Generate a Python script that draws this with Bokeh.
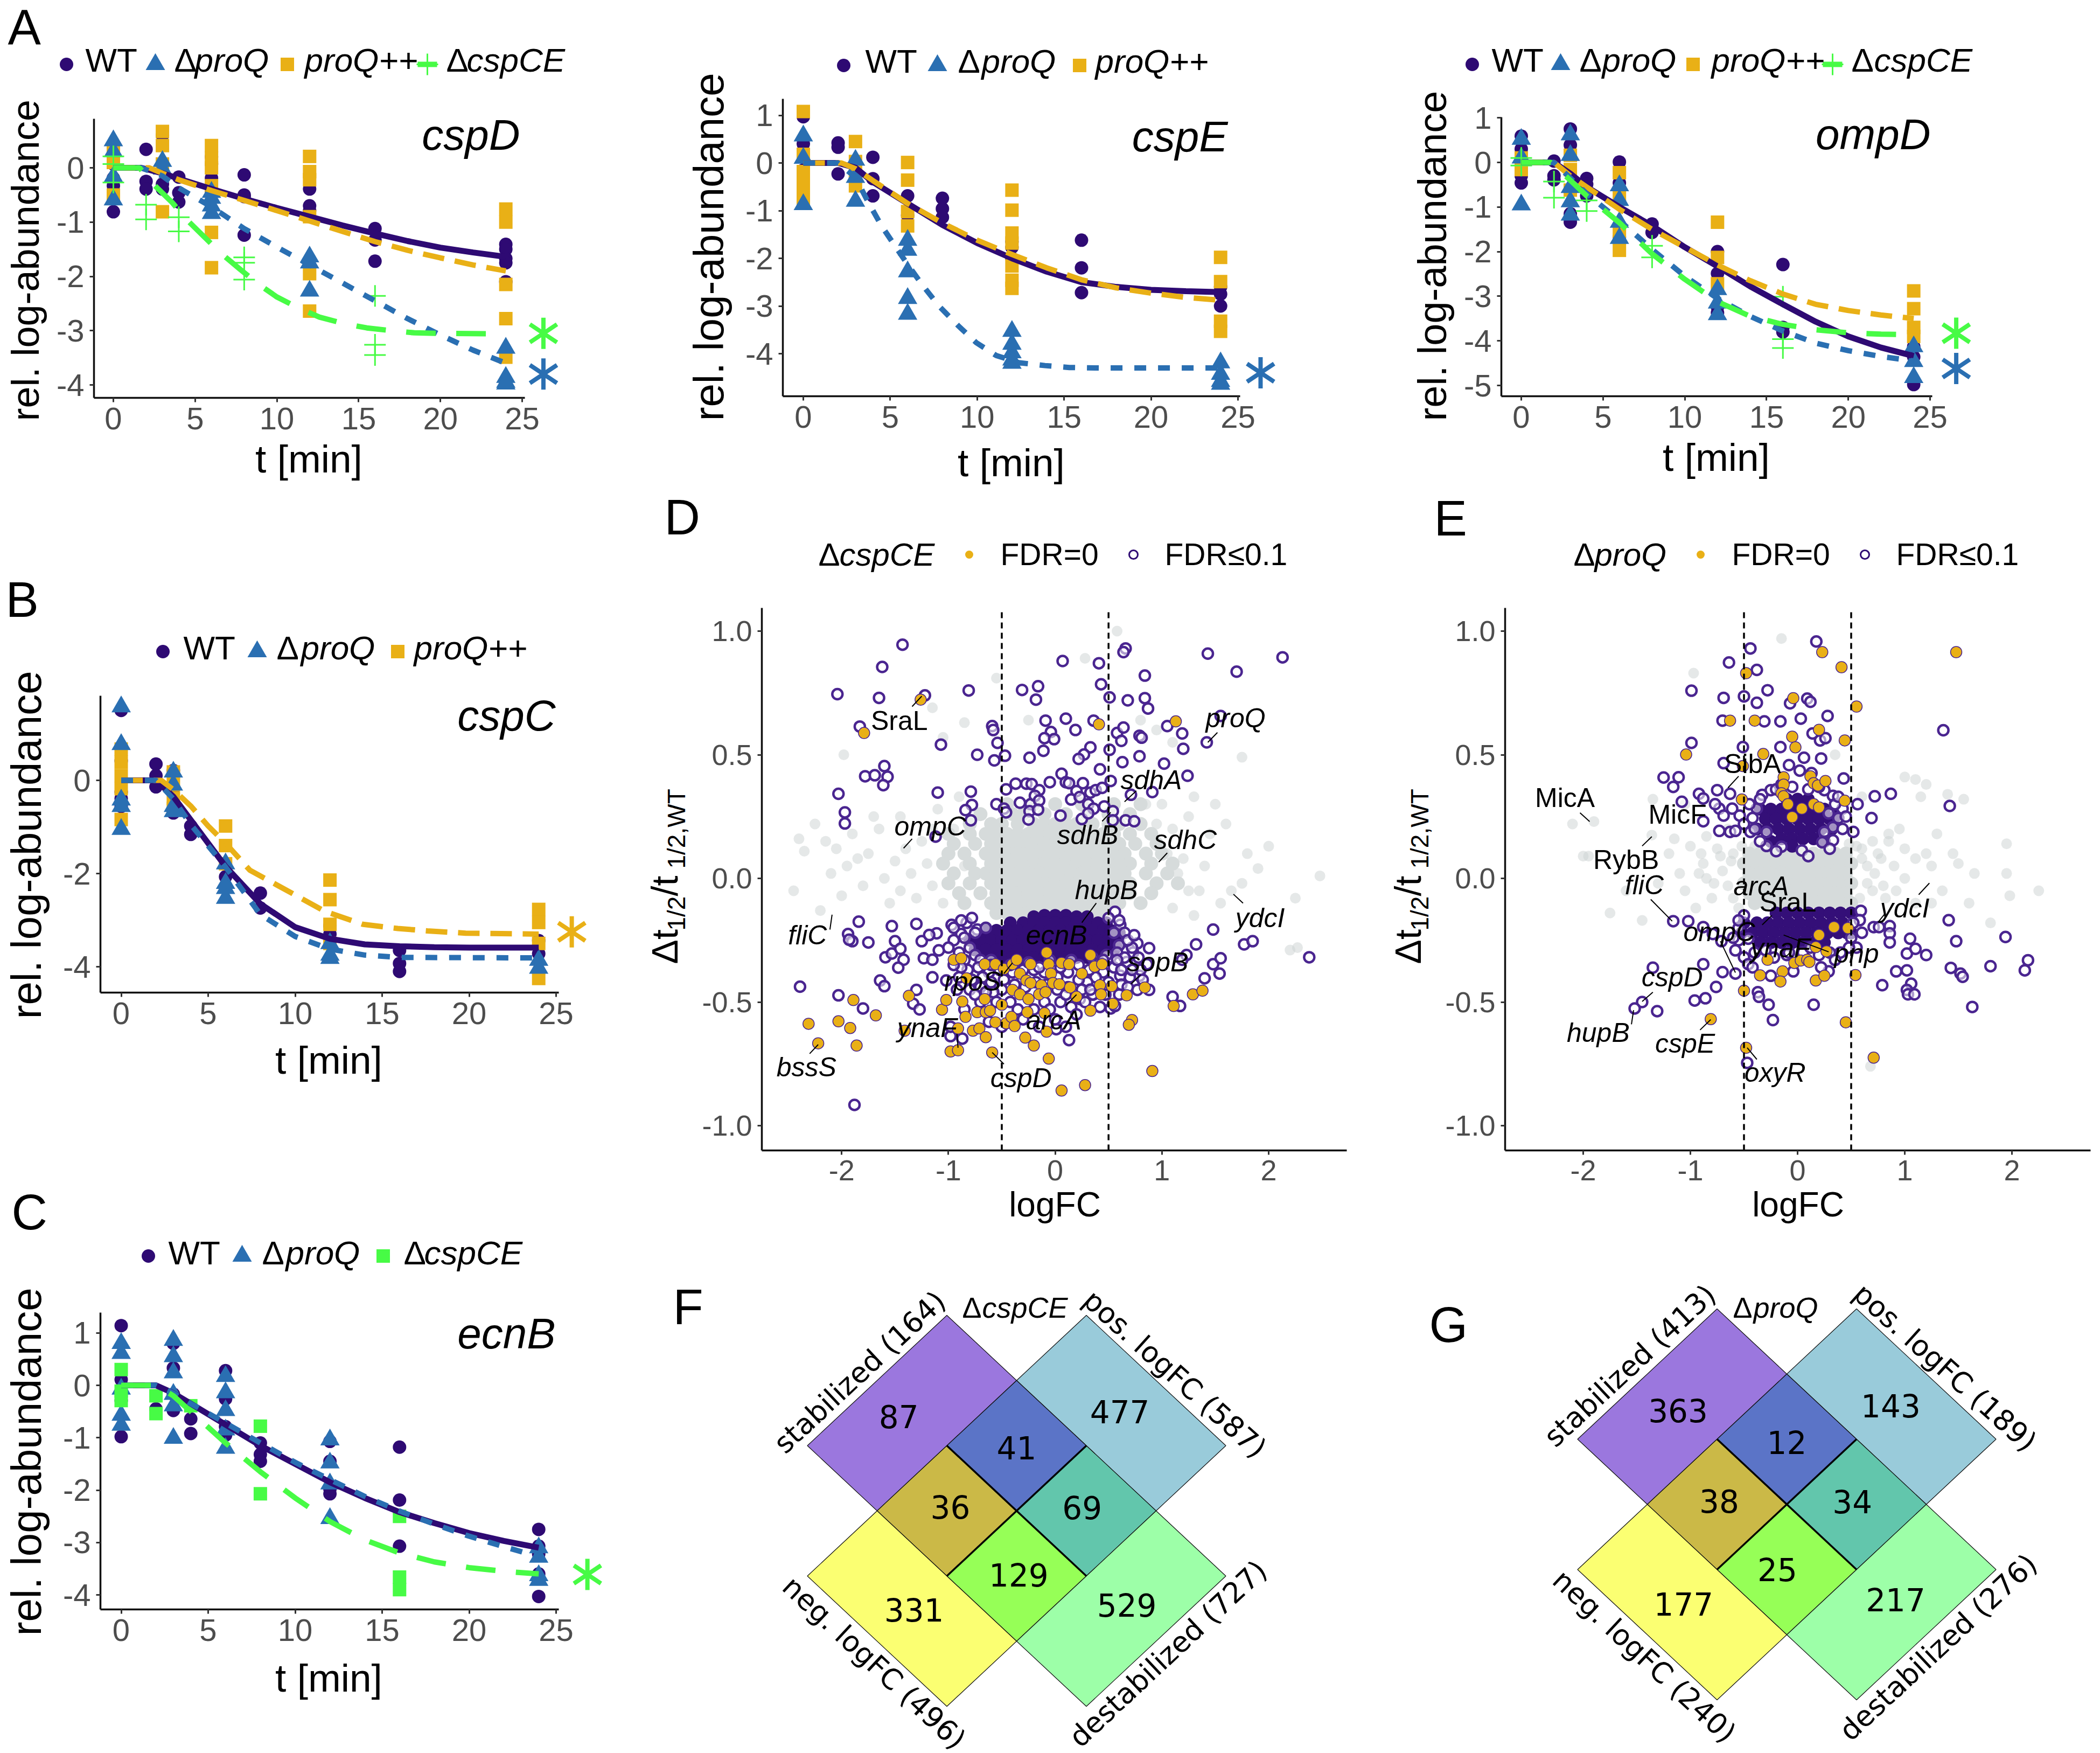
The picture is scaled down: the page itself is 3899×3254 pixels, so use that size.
from bokeh.plotting import figure
from bokeh.models import Range1d, Label, FixedTicker
from bokeh.layouts import row, column
from bokeh.embed import file_html
from bokeh.resources import INLINE
import math

PURPLE="#2E0A73"; BLUE="#2A6FB2"; ORANGE="#E9B016"; GREEN="#47FB45"; FONT="Liberation Sans"; VF="DejaVu Sans"

# ---------- time course data: (t, value) ----------
cspD_wt=[(0,.38),(0,.2),(0,.07),(0,-.19),(0,-.33),(0,-.81),(2,.34),(2,-.25),(2,-.39),(3,.6),(3,-.3),(3,-.39),(4,-.17),(4,-.46),(4,-.63),(6,.2),(6,.07),(6,-.19),(6,-.46),(8,-.13),(8,-.5),(8,-.53),(8,-1.24),(12,-.39),(12,-.7),(12,-.79),(16,-1.12),(16,-1.33),(16,-1.72),(24,-1.41),(24,-1.5),(24,-1.67),(24,-1.75),(24,-2.1)]
cspD_dq=[(0,.5),(0,.3),(0,-.16),(0,-.59),(3,.12),(3,-.02),(6,-.45),(6,-.56),(6,-.7),(6,-.84),(12,-1.64),(12,-1.75),(12,-2.27),(24,-3.32),(24,-3.86),(24,-3.95),(24,-3.98)]
cspD_pq=[(0,.3),(0,.1),(0,-.5),(0,-.55),(3,.67),(3,.41),(3,.07),(3,-.81),(6,.41),(6,.18),(6,0),(6,-.33),(6,-1.19),(6,-1.84),(12,.21),(12,-.07),(12,-.22),(12,-.9),(12,-1.95),(12,-2.64),(24,-.76),(24,-1.0),(24,-2.15),(24,-2.78),(24,-3.49)]
cspD_dc=[(0,.21),(0,.07),(0,-.27),(2,-.68),(2,-.95),(4,-.91),(4,-1.17),(8,-1.65),(8,-1.75),(8,-2.06),(16,-2.36),(16,-3.26),(16,-3.45)]
cspD_wt_fit=[(0,0),(1.7,0),(3,-.1),(4,-.2),(6,-.39),(8,-.57),(10,-.74),(12,-.9),(14,-1.06),(16,-1.21),(18,-1.35),(20,-1.47),(22,-1.56),(24,-1.64)]
cspD_pq_fit=[(0,0),(2.2,0),(3,-.1),(4,-.22),(6,-.42),(8,-.6),(10,-.79),(12,-.98),(14,-1.17),(16,-1.36),(18,-1.52),(20,-1.66),(22,-1.79),(24,-1.9)]
cspD_dq_fit=[(0,0),(1.7,0),(3,-.15),(4,-.37),(6,-.72),(8,-1.12),(10,-1.46),(12,-1.79),(14,-2.12),(16,-2.45),(18,-2.78),(20,-3.08),(22,-3.36),(24,-3.6)]
cspD_dc_fit=[(0,0),(1.6,0),(2.54,-.33),(3.6,-.64),(4.5,-.96),(5.55,-1.27),(6.6,-1.58),(7.75,-1.87),(8.9,-2.15),(10,-2.38),(11.3,-2.58),(12.6,-2.75),(14.1,-2.87),(15.5,-2.95),(17,-3.0),(18.4,-3.04),(19.9,-3.05),(24,-3.06)]

cspE_wt=[(0,.97),(0,.5),(0,.4),(0,.12),(0,-.15),(0,-.3),(2,.42),(2,.33),(2,-.23),(3,-.3),(4,.12),(4,-.33),(4,-.69),(6,-.69),(6,-1.1),(8,-.74),(8,-.96),(8,-1.14),(12,-1.65),(12,-1.77),(12,-2.0),(16,-1.62),(16,-2.2),(16,-2.72),(24,-2.75),(24,-3.0),(24,-2.6)]
cspE_dq=[(0,.57),(0,.1),(0,-.87),(3,.06),(3,-.3),(3,-.8),(6,-1.62),(6,-1.83),(6,-2.28),(6,-2.84),(6,-3.17),(12,-3.53),(12,-3.8),(12,-3.98),(12,-4.13),(12,-4.2),(24,-4.19),(24,-4.43),(24,-4.58),(24,-4.64)]
cspE_pq=[(0,1.08),(0,.18),(0,-.18),(0,-.36),(0,-.54),(0,-.78),(3,.45),(3,.03),(3,-.24),(3,-.48),(6,.01),(6,-.36),(6,-1.02),(6,-1.32),(12,-.57),(12,-.99),(12,-1.47),(12,-1.68),(12,-2.16),(12,-2.46),(12,-2.63),(24,-1.98),(24,-2.49),(24,-3.32),(24,-3.53)]
cspE_wt_fit=[(0,0),(2,0),(3,-.1),(4,-.4),(6,-.85),(8,-1.3),(10,-1.68),(12,-2.0),(14,-2.28),(16,-2.5),(18,-2.6),(20,-2.66),(22,-2.69),(24,-2.71)]
cspE_pq_fit=[(0,0),(2.2,0),(3,-.12),(4,-.37),(6,-.85),(8,-1.26),(10,-1.62),(12,-1.92),(14,-2.2),(16,-2.45),(18,-2.62),(20,-2.73),(22,-2.82),(24,-2.88)]
cspE_dq_fit=[(0,0),(2,0),(3,-.3),(3.67,-.78),(4.5,-1.32),(5.2,-1.7),(6,-2.13),(6.87,-2.57),(7.8,-3.0),(8.9,-3.41),(9.95,-3.77),(11.1,-4.04),(12.4,-4.19),(13.9,-4.25),(15.3,-4.29),(17,-4.3),(24,-4.3)]

ompD_wt=[(0,.59),(0,.3),(0,.03),(0,-.3),(0,-.46),(2,.03),(2,-.3),(2,-.39),(3,.75),(3,.39),(3,-1.15),(3,-1.34),(4,-.36),(4,-.49),(4,-.75),(6,.01),(6,-.46),(6,-.85),(6,-1.67),(8,-1.38),(8,-1.57),(12,-2.0),(12,-2.49),(12,-3.24),(12,-3.37),(16,-2.29),(16,-3.7),(16,-3.8),(24,-4.13),(24,-4.36),(24,-4.98)]
ompD_dq=[(0,.52),(0,.1),(0,-.95),(3,.62),(3,.16),(3,-.56),(3,-.88),(3,-1.18),(6,-.52),(6,-.85),(6,-1.34),(6,-1.7),(12,-2.85),(12,-3.15),(12,-3.41),(24,-4.13),(24,-4.46),(24,-4.82)]
ompD_pq=[(0,.1),(0,-.16),(3,.16),(3,-.16),(3,-.62),(6,-.23),(6,-.75),(6,-1.54),(6,-1.97),(12,-1.34),(12,-2.13),(12,-2.72),(24,-2.88),(24,-3.28),(24,-3.7),(24,-3.9)]
ompD_dc=[(0,.1),(0,-.07),(2,-.43),(2,-.79),(4,-.85),(4,-1.09),(8,-1.87),(8,-2.13),(16,-3.01),(16,-3.96),(16,-4.16)]
ompD_wt_fit=[(0,0),(2,0),(3,-.25),(4,-.55),(6,-1.0),(8,-1.42),(10,-1.9),(12,-2.33),(14,-2.78),(16,-3.18),(18,-3.57),(20,-3.9),(22,-4.15),(24,-4.34)]
ompD_pq_fit=[(0,0),(2,0),(3,-.3),(4,-.55),(6,-1.05),(8,-1.5),(10,-1.9),(12,-2.3),(14,-2.65),(16,-2.95),(18,-3.18),(20,-3.32),(22,-3.42),(24,-3.5)]
ompD_dq_fit=[(0,0),(2,0),(3,-.35),(4,-.7),(6,-1.3),(8,-1.95),(10,-2.55),(12,-3.05),(14,-3.45),(16,-3.78),(18,-4.05),(20,-4.22),(22,-4.35),(24,-4.45)]
ompD_dc_fit=[(0,0),(1.8,0),(3,-.4),(4,-.75),(6,-1.35),(8,-2.05),(10,-2.62),(12,-3.12),(14,-3.45),(16,-3.63),(18,-3.75),(20,-3.82),(22,-3.85),(24,-3.86)]

cspC_wt=[(0,1.5),(0,.42),(0,-.25),(0,-.39),(0,-.56),(2,.35),(2,.1),(2,-.14),(3,.21),(3,-.18),(3,-.7),(4,-.98),(4,-1.16),(6,-2.07),(8,-2.42),(8,-2.74),(12,-3.12),(12,-3.3),(16,-3.65),(16,-3.93),(16,-4.1),(24,-3.44),(24,-3.72)]
cspC_dq=[(0,1.58),(0,.77),(0,-.42),(0,-.56),(0,-1.05),(3,.18),(3,-.1),(3,-.56),(3,-.67),(6,-1.79),(6,-2.21),(6,-2.32),(6,-2.53),(12,-3.5),(12,-3.75),(12,-3.82),(24,-3.86),(24,-4.03)]
cspC_pq=[(0,.67),(0,.39),(0,.1),(0,-.18),(0,-.84),(3,.18),(3,-.1),(3,-.39),(3,-.6),(6,-.98),(6,-1.4),(6,-1.79),(12,-2.14),(12,-2.56),(12,-3.09),(12,-3.5),(24,-2.77),(24,-3.05),(24,-3.5),(24,-4.25)]
cspC_wt_fit=[(0,0),(2,0),(3,-.35),(4,-.85),(6,-1.85),(8,-2.65),(10,-3.15),(12,-3.4),(14,-3.52),(16,-3.56),(18,-3.58),(20,-3.59),(24,-3.59)]
cspC_pq_fit=[(0,0),(2.3,0),(3,-.2),(4,-.55),(5,-.98),(6,-1.35),(7.4,-1.93),(10,-2.46),(11.7,-2.81),(13.9,-3.09),(15.9,-3.18),(17.6,-3.23),(19.8,-3.28),(24,-3.3)]
cspC_dq_fit=[(0,0),(2,0),(3,-.4),(4,-.95),(6,-1.86),(8,-2.88),(10,-3.35),(12,-3.62),(14,-3.75),(16,-3.8),(24,-3.81)]

ecnB_wt=[(0,1.14),(0,.11),(0,-.29),(0,-.98),(2,-.45),(3,.8),(3,.33),(3,-.17),(3,-.48),(4,-.64),(4,-.92),(6,.28),(6,-.26),(6,-.79),(6,-.95),(8,-1.1),(8,-1.32),(8,-1.45),(12,-1.07),(12,-1.45),(12,-1.98),(12,-2.07),(16,-1.18),(16,-2.19),(16,-3.07),(24,-2.75),(24,-3.07),(24,-3.22),(24,-3.6),(24,-4.03)]
ecnB_dq=[(0,.8),(0,.61),(0,-.07),(0,-.57),(0,-.76),(3,.86),(3,.55),(3,.24),(3,-.17),(3,-.39),(3,-1.01),(6,.17),(6,-.14),(6,-.48),(6,-.85),(6,-1.2),(12,-1.04),(12,-1.48),(12,-1.88),(12,-2.54),(24,-3.1),(24,-3.28),(24,-3.63),(24,-3.72)]
ecnB_dc=[(0,.3),(0,-.11),(0,-.29),(2,-.2),(2,-.54),(4,-.39),(8,-.78),(8,-2.07),(16,-2.5),(16,-3.66),(16,-3.9)]
ecnB_wt_fit=[(0,0),(2,0),(3,-.15),(4,-.35),(6,-.75),(8,-1.15),(10,-1.5),(12,-1.85),(14,-2.15),(16,-2.42),(18,-2.63),(20,-2.82),(22,-2.97),(24,-3.1)]
ecnB_dq_fit=[(0,0),(2,0),(3,-.15),(4,-.35),(6,-.72),(8,-1.1),(10,-1.47),(12,-1.8),(14,-2.12),(16,-2.4),(18,-2.65),(20,-2.88),(22,-3.08),(24,-3.27)]
ecnB_dc_fit=[(0,0),(2,0),(3,-.2),(4,-.5),(6,-1.1),(8,-1.65),(10,-2.15),(12,-2.6),(14,-2.95),(16,-3.2),(18,-3.37),(20,-3.48),(22,-3.55),(24,-3.6)]

# ---------- volcano D: (logFC, dt) ----------
D_rings=[(-1.43,.945),(-1.62,.855),(-2.04,.745),(-1.65,.73),(-1.22,.74),(-.81,.76),(-.31,.762),(-.16,.777),(-.18,.723),(.07,.879),(.41,.87),(.66,.93),(.64,.915),(.43,.785),(.51,.732),(.68,.72),(.84,.82),(.84,.729),(.87,.687),(1.43,.909),(1.70,.836),(2.13,.894),(1.55,.657),(1.42,.55),(1.19,.586),(1.05,.616),(1.2,.524),(1.02,.464),(1.24,.415),(.91,.349),(-1.83,.614),(-1.07,.541),(-.59,.616),(-.58,.6),(-.54,.548),(-.73,.5),(-.57,.477),(-.47,.496),(-.24,.488),(-.09,.638),(.1,.646),(-.04,.592),(-.1,.567),(-.01,.563),(-.11,.516),(.19,.6),(.36,.638),(.58,.588),(.64,.61),(.62,.556),(.79,.577),(.81,.569),(.79,.494),(.51,.52),(.33,.53),(.27,.501),(.22,.483),(.63,.47),(-2.03,.342),(-1.97,.267),(-1.97,.222),(-1.78,.413),(-1.69,.417),(-1.6,.454),(-1.57,.411),(-1.61,.377),(-1.1,.347),(-.79,.351),(-.78,.297),(-.84,.276),(-.79,.235),(-1.12,.169),
(-.55,.3),(-.48,.282),(-.46,.267),(-.46,.36),(-.37,.383),(-.27,.383),(-.22,.381),(-.33,.306),(-.23,.3),(-.15,.357),(-.19,.334),(-.15,.315),(-.24,.272),(-.16,.278),(-.25,.238),(-.05,.389),(.06,.423),(.1,.389),(.13,.385),(.26,.385),(.2,.353),(.15,.319),(.23,.329),(.33,.347),(.38,.357),(.44,.366),(.42,.441),(.52,.394),(.31,.3),(.36,.282),(.46,.291),(.54,.272),(.25,.24),(.31,.263),(.05,.254),(.54,.235),(.66,.235),(.74,.231),(.71,.338),
(-1.84,-.175),(-1.94,-.225),(-1.9,-.254),(-1.93,-.248),(-1.75,-.259),(-1.53,-.193),(-1.5,-.254),(-1.3,-.184),(-1.25,-.254),(-1.11,-.222),(-1.18,-.229),(-1.09,-.291),(-1.59,-.319),(-1.53,-.304),(-1.45,-.285),(-1.42,-.329),(-1.47,-.361),(-1.23,-.323),(-1.15,-.329),(-1.15,-.4),(-1.64,-.413),(-1.6,-.436),(-2.39,-.438),(-2.03,-.473),(-1.8,-.526),(-1.3,-.451),(-1.33,-.507),(-1.27,-.53),(-1.88,-.916),
(-.97,-.188),(-.83,-.18),(-.73,-.207),(-.88,-.225),(-1.02,-.413),(-.98,-.638),(-.87,-.648),(-.98,-.6),(.13,-.654),(.01,-.61),(.52,-.526),(.56,-.516),(.77,-.451),(.88,-.451),(1.1,-.479),(1.17,-.516),(1.4,-.404),(1.48,-.347),(1.55,-.323),(1.54,-.385),(1.32,-.267),(1.23,-.31),(1.19,-.329),(1.48,-.207),(1.77,-.267),(1.85,-.254),(2.38,-.319),(.88,-.282),(.77,-.263),(.61,-.188),(.56,-.135),(.67,-.254),(.73,-.3),(.86,-.347),(.61,-.394),(.36,-.469),(.23,-.488),(.52,-.319),(.67,-.338),(.79,-.394),
(-.95,-.25),(-.9,-.3),(-.85,-.24),(-.8,-.28),(-.85,-.33),(-.75,-.31),(-.7,-.33),(-.6,-.33),(-.75,-.22),(-.65,-.2),(.55,-.22),(.6,-.27),(.65,-.22),(.58,-.3),(.65,-.32),(.72,-.28),(.78,-.32),(.55,-.36),(.62,-.37),(.7,-.4),(.8,-.37),(.5,-.42),(.45,-.38),(.38,-.4),(.3,-.42),(.25,-.45),(.35,-.47),(.12,-.38),(.02,-.4),(-.1,-.38),(-.2,-.37),(-.3,-.37),(-.4,-.38),(-.52,-.37),(-.62,-.38),(-.72,-.36),(-.82,-.37),(-.9,-.4),(-.8,-.45),(-.7,-.44),(-.6,-.42),(-.5,-.45),(-.42,-.5),(-.55,-.5),(-.7,-.5),(-.85,-.53),(-.1,-.5),(.05,-.5),(.15,-.52),(.28,-.5),(.42,-.52),(-.3,-.57),(-.15,-.6),(0,-.57),(.1,-.6),(-.62,-.58),(-.5,-.6),(.35,-.32),(.15,-.33),(-.05,-.33),(-.25,-.34),
(-.88,-.36),(-.78,-.41),(-.68,-.4),(-.58,-.46),(-.48,-.41),(-.38,-.43),(-.28,-.44),(-.18,-.42),(-.08,-.43),(.02,-.45),(.12,-.44),(.22,-.41),(.32,-.37),(.42,-.34),(.48,-.31),(.62,-.43),(.72,-.37),(.82,-.41),(-.95,-.35),(-1.0,-.28),(-.92,-.45),(-.75,-.47),(-.65,-.46),(-.35,-.53),(-.2,-.53),(-.05,-.53),(.1,-.47),(.2,-.55),(.33,-.45),(.47,-.47),(.6,-.47),(.68,-.44),(-.6,-.35),(-.42,-.35),(-.15,-.36),(.05,-.36),(.22,-.35),(.45,-.33),(.58,-.33),(.68,-.25),(.74,-.23),(-.95,-.2),(-.88,-.17),(-.78,-.16),(.6,-.17),(.5,-.16)]
D_fdr0=[(-1.26,.723),(-1.79,.588),(.41,.623),(1.13,.635),(-.95,-.329),(-.88,-.323),(-.83,-.404),(-.66,-.347),(-.56,-.347),(-.48,-.366),(-.4,-.347),(-.36,-.329),(-.23,-.347),(-.08,-.3),(-.06,-.347),(.06,-.342),(.13,-.347),(.33,-.31),(.37,-.357),(.44,-.347),(.25,-.385),(-.04,-.385),(-.33,-.385),(-.27,-.413),(-.23,-.423),(-.13,-.432),(-.02,-.423),(.04,-.428),(.14,-.441),(-.4,-.451),(-.33,-.469),(-.25,-.488),(-.15,-.469),(-.09,-.46),(.2,-.479),(.42,-.432),(.53,-.436),(.43,-.469),(.84,-.441),(.67,-.473),(.54,-.507),(.33,-.535),(1.29,-.469),(1.38,-.454),(1.11,-.516),(.72,-.573),(.69,-.592),(-1.37,-.475),(-1.89,-.492),(-2.03,-.578),(-2.31,-.588),(-1.92,-.605),(-1.68,-.554),(-1.86,-.676),(-2.22,-.667),(-1.41,-.616),(-1.06,-.531),(-.87,-.498),(-1.02,-.492),(-.66,-.488),(-.5,-.511),(-.73,-.541),(-.65,-.541),(-.61,-.535),(-.84,-.56),(-.56,-.582),(-.46,-.586),(-.41,-.56),(-.38,-.597),(-.26,-.541),(-.1,-.545),(-.08,-.62),(-.77,-.616),(-.71,-.607),(-.65,-.642),(-.28,-.644),(-.91,-.607),(-.98,-.7),(-.91,-.695),(-.59,-.704),(-.2,-.676),(-.06,-.729),(.06,-.858),(.28,-.836),(.91,-.779)]
D_core=[(-.2,-.155),(-.1,-.15),(0,-.15),(.1,-.15),(.2,-.155),(.3,-.155),(-.42,-.18),(-.3,-.18),(-.2,-.18),(-.1,-.18),(0,-.18),(.1,-.18),(.2,-.18),(.3,-.18),(.4,-.18),(.48,-.18),(-.65,-.21),(-.55,-.21),(-.45,-.21),(-.35,-.21),(-.25,-.21),(-.15,-.21),(-.05,-.21),(.05,-.21),(.15,-.21),(.25,-.21),(.35,-.21),(.45,-.21),(.52,-.21),(.6,-.22),(-.8,-.25),(-.7,-.25),(-.6,-.25),(-.5,-.25),(-.4,-.25),(-.3,-.25),(-.2,-.25),(-.1,-.25),(0,-.25),(.1,-.25),(.2,-.25),(.3,-.25),(.4,-.25),(.5,-.25),(.6,-.26),(-.75,-.29),(-.65,-.29),(-.55,-.29),(-.45,-.29),(-.35,-.29),(-.25,-.29),(-.15,-.29),(-.05,-.29),(.05,-.29),(.15,-.29),(.25,-.29),(.35,-.29),(.45,-.29),(.55,-.29),(-.6,-.32),(-.5,-.32),(-.4,-.32),(-.3,-.32),(-.2,-.32),(-.1,-.32),(0,-.32),(.1,-.32),(.2,-.32),(.3,-.32),(.4,-.32)]
D_gray=[(-2.45,-.05),(-2.35,.11),(-2.25,.22),(-2.15,.15),(-2.1,.02),(-2.0,-.07),(-1.95,.05),(-1.9,.18),(-1.8,-.03),(-1.75,.1),(-1.65,.2),(-1.6,.0),(-1.55,-.1),(-1.5,.07),(-1.45,.25),(-1.35,.02),(-1.3,-.08),(-1.25,.15),(-1.2,.06),(-1.15,-.03),(-1.1,.28),(-1.0,.1),(-1.05,-.1),(-.95,.2),(-.9,.33),(-.85,.05),(-2.4,.16),(-2.2,-.13),(-1.98,.5),(-1.05,.57),(-.85,.63),(.58,1.0),(.28,.89),(-.55,.81),(-.25,.64),(-1.15,.69),(.8,.64),(.95,.6),(1.1,.55),(1.75,.49),(1.3,.33),(1.5,.3),(1.6,.22),(1.45,.18),(1.8,.1),(1.75,-.02),(1.65,-.05),(1.9,.04),(2.0,.13),(2.48,.01),(2.25,-.08),(2.2,-.29),(2.27,-.28),(1.35,-.05),(1.2,.08),(1.1,.2),(1.25,.25),(1.0,.3),(1.4,.05),(1.55,-.1),(1.3,-.15),(1.1,-.12),(.95,.22),(.85,.3),(-1.7,.25),(-1.4,.12),(-1.15,.2),(-1.85,.08),(-2.05,.12),(-1.45,-.05),(1.15,.02),(1.25,-.05),(1.05,.1)]
D_gray_dense=[(-.45,.3),(-.2,.3),(0,.3),(.25,.3),(.55,.3),(.8,.3),(-.7,.26),(-.4,.26),(-.3,.26),(-.1,.26),(.1,.26),(.3,.26),(.5,.26),(.7,.26),(-.8,.22),(-.6,.22),(-.5,.22),(-.35,.22),(-.2,.22),(-.1,.22),(0,.22),(.1,.22),(.2,.22),(.35,.22),(.5,.22),(.6,.22),(.8,.22),(-1,.18),(-.8,.18),(-.65,.18),(-.55,.18),(-.45,.18),(-.35,.18),(-.25,.18),(-.15,.18),(-.05,.18),(.05,.18),(.15,.18),(.25,.18),(.35,.18),(.45,.18),(.55,.18),(.7,.18),(.9,.18),
(-.95,.14),(-.75,.14),(-.6,.14),(-.5,.14),(-.4,.14),(-.3,.14),(-.2,.14),(-.1,.14),(0,.14),(.1,.14),(.2,.14),(.3,.14),(.4,.14),(.5,.14),(.6,.14),(.75,.14),(.95,.14),
(-1,.1),(-.85,.1),(-.65,.1),(-.55,.1),(-.45,.1),(-.35,.1),(-.25,.1),(-.15,.1),(-.05,.1),(.05,.1),(.15,.1),(.25,.1),(.35,.1),(.45,.1),(.55,.1),(.65,.1),(.85,.1),(1,.1),
(-1.05,.06),(-.8,.06),(-.6,.06),(-.5,.06),(-.4,.06),(-.3,.06),(-.2,.06),(-.1,.06),(0,.06),(.1,.06),(.2,.06),(.3,.06),(.4,.06),(.5,.06),(.6,.06),(.7,.06),(.9,.06),(1.1,.06),
(-.95,.02),(-.75,.02),(-.65,.02),(-.55,.02),(-.45,.02),(-.35,.02),(-.25,.02),(-.15,.02),(-.05,.02),(.05,.02),(.15,.02),(.25,.02),(.35,.02),(.45,.02),(.55,.02),(.65,.02),(.85,.02),(1.05,.02),
(-1,-.02),(-.8,-.02),(-.6,-.02),(-.5,-.02),(-.4,-.02),(-.3,-.02),(-.2,-.02),(-.1,-.02),(0,-.02),(.1,-.02),(.2,-.02),(.3,-.02),(.4,-.02),(.5,-.02),(.6,-.02),(.7,-.02),(.95,-.02),(1.15,-.02),
(-.9,-.06),(-.7,-.06),(-.55,-.06),(-.45,-.06),(-.35,-.06),(-.25,-.06),(-.15,-.06),(-.05,-.06),(.05,-.06),(.15,-.06),(.25,-.06),(.35,-.06),(.45,-.06),(.55,-.06),(.7,-.06),(.9,-.06),
(-.85,-.1),(-.6,-.1),(-.5,-.1),(-.4,-.1),(-.3,-.1),(-.2,-.1),(-.1,-.1),(0,-.1),(.1,-.1),(.2,-.1),(.3,-.1),(.4,-.1),(.5,-.1),(.6,-.1),(.8,-.1),
(-.55,-.14),(-.45,-.14),(-.35,-.14),(-.25,-.14),(-.15,-.14),(-.05,-.14),(.05,-.14),(.15,-.14),(.25,-.14),(.35,-.14),(.45,-.14)]

# ---------- volcano E ----------
E_rings=[(.175,.958),(-.44,.93),(-.64,.873),(-.38,.843),(-.99,.759),(-.69,.73),(-.5,.736),(-.28,.761),(-.38,.71),(-.07,.708),(.09,.727),(.12,.714),(-.7,.638),(-.31,.635),(-.16,.635),(.03,.646),(.28,.657),(1.36,.599),(-.99,.548),(-.51,.531),(-.16,.531),(.14,.586),(.21,.558),(.26,.567),(.06,.488),(.22,.485),(-.69,.466),(-.08,.458),(.02,.436),(.13,.426),(-1.25,.408),(-1.11,.409),(-1.16,.37),(.43,.404),(-.75,.357),(-.63,.342),(-.92,.342),(-.88,.323),(-1.08,.31),(.33,.334),(.72,.332),(.87,.342),(.56,.3),(1.42,.293),(.69,.244),(-.88,.231),(-.73,.282),(-.77,.3),(-.69,.254),(-.61,.282),(-.54,.254),(-.63,.188),(-.73,.192),(-.58,.192),(-.44,.188),(-.29,.131),(-.15,.128),(.04,.113),(.23,.146),(.33,.154),(.38,.244),(.52,.188),(.42,.282),(-.38,.282),(-.42,.244),(-.33,.338),(-.25,.357),(.29,.263),(.33,.207),(.25,.357),(-.29,.188),(.25,.188),(-.4,.2),(-.35,.32),(-.05,.37),(.1,.36),(.35,.3),(-.2,.36),(.59,-.131),(.58,-.169),(.71,-.197),(.76,-.197),(.86,-.193),(.86,-.222),(.86,-.259),(1.05,-.244),(1.02,-.304),(1.1,-.285),(1.2,-.31),(1.41,-.169),(1.48,-.254),(1.94,-.237),(2.15,-.331),(2.12,-.372),(1.8,-.355),(1.43,-.362),(1.52,-.385),(1.54,-.398),(1.63,-.52),(.92,-.376),(1.02,-.372),(1.06,-.426),(1.02,-.451),(1.03,-.469),(1.09,-.469),(.79,-.432),(-1.16,-.173),(-1.02,-.173),(-.88,-.197),(-.79,-.225),(-.71,-.254),(-.58,-.291),(-.5,-.319),(-.46,-.347),(-.88,-.347),(-.7,-.379),(-.58,-.385),(-1.35,-.361),(-.76,-.439),(-.96,-.494),(-.86,-.485),(-1.31,-.537),(-1.45,-.5),(-1.52,-.526),(-.37,-.46),(-.36,-.479),(-.27,-.511),(-.23,-.573),(.15,-.511),(-.47,-.746),(-.25,-.394),(-.04,-.376),(.29,-.376),(-.46,-.244),(-.55,-.2),(-.5,-.15),(.5,-.24),(.55,-.28),(.4,-.3),(.3,-.3),(-.4,-.3),(-.3,-.29),(-.1,-.31),(.05,-.3),(.2,-.31),(-.55,-.25),
(-.45,.3),(-.5,.22),(-.35,.15),(-.2,.11),(.1,.09),(.3,.12),(.42,.2),(.45,.25),(.38,.33),(-.15,.38),(.2,.37),(-.55,-.17),(-.6,-.24),(.52,-.18),(.6,-.22),(.48,-.28),(.35,-.33),(.12,-.28),(-.08,-.3),(-.22,-.32),(-.42,-.36),(.22,-.36)]
E_fdr0=[(.23,.915),(-.48,.83),(.41,.854),(1.48,.915),(-.04,.729),(.55,.695),(-.63,.638),(-.4,.638),(.2,.601),(-.05,.573),(-.02,.53),(.44,.558),(-1.04,.501),(-.32,.503),(-.51,.454),(-.13,.409),(-.13,.379),(.12,.413),(.15,.385),(.19,.376),(.26,.394),(-.15,.344),(-.13,.332),(-.09,.3),(.04,.282),(.15,.3),(.2,.287),(-.05,.248),(.44,.314),(-.52,.319),(.34,-.197),(.47,-.201),(.2,-.229),(.17,-.278),(.27,-.295),(-.28,-.329),(-.03,-.342),(.03,-.332),(.09,-.329),(.11,-.338),(-.14,-.376),(-.35,-.392),(-.16,-.417),(.17,-.413),(.25,-.394),(.54,-.391),(-.5,-.454),(-.81,-.569),(.45,-.582),(-.48,-.685),(.71,-.725)]
E_core=[(-.1,.32),(0,.32),(.1,.32),(-.35,.28),(-.25,.28),(-.15,.28),(-.05,.28),(.05,.28),(.15,.28),(.25,.28),(-.3,.24),(-.2,.24),(-.1,.24),(0,.24),(.1,.24),(.2,.24),(.3,.24),(.35,.25),(-.38,.2),(-.28,.2),(-.18,.2),(-.08,.2),(.02,.2),(.12,.2),(.22,.2),(.32,.2),(-.25,.15),(-.15,.16),(-.05,.16),(.05,.16),(.15,.16),(.25,.15),(-.05,.13),(-.2,-.14),(-.1,-.14),(0,-.14),(.1,-.14),(.2,-.14),(.3,-.14),(.4,-.14),(.5,-.14),(-.5,-.18),(-.38,-.18),(-.28,-.18),(-.18,-.18),(-.08,-.18),(.02,-.18),(.12,-.18),(.22,-.18),(.32,-.18),(.42,-.18),(-.52,-.22),(-.42,-.22),(-.32,-.22),(-.22,-.22),(-.12,-.22),(-.02,-.22),(.08,-.22),(.18,-.22),(.28,-.22),(.38,-.22),(.46,-.22),(.5,-.22),(-.35,-.26),(-.25,-.26),(-.15,-.26),(-.05,-.26),(.05,-.26),(.15,-.26),(.25,-.26)]
E_gray=[(-2.1,.22),(-1.9,.23),(-2.0,.09),(-1.95,.09),(-1.36,.175),(-1.35,.32),(-1.75,-.14),(-1.45,-.17),(-1.6,-.05),(-.97,.83),(-.15,.97),(-1.2,.1),(-1.1,.02),(-1.05,-.05),(-1.3,-.02),(-1.0,.13),(-.9,.1),(-.85,.0),(-.8,-.08),(-.95,-.12),(-.85,.17),(-.75,.12),(.65,.05),(.75,.1),(.85,.15),(.9,.05),(1.0,.0),(1.1,-.1),(1.2,.1),(1.3,.18),(1.25,.05),(1.35,-.05),(.95,.2),(.85,.18),(1.0,.12),(1.5,.06),(1.65,.02),(1.95,.02),(2.25,-.05),(1.98,-.07),(1.6,-.1),(1.8,-.18),(1.2,.38),(1.1,.4),(1.15,.33),(1.4,.34),(1.55,.32),(1.0,.41),(1.95,.14),(1.45,.1),(1.25,-.1),(.35,.5),(.6,.33),(.68,-.76),(-1.05,.3),(-.65,.2),(.7,.15),(.6,.12),(.7,-.05),(.8,-.03),(-.6,-.08),(-.7,.03),(-.62,.07),
(-.6,.1),(-.65,-.03),(-.55,-.12),(.6,.08),(.65,-.02),(.58,-.08),(.72,.02),(.78,.08),(-.72,.09),(-.78,-.02),(-.88,.06),(.55,.13),(.48,.14),(-.52,.13),(-.4,.13),(.92,-.05),(.82,-.08),(1.1,.08),(-1.15,.16),(-.92,.02)]
E_gray_dense=[(-.45,.1),(-.35,.1),(-.25,.1),(-.15,.1),(-.05,.1),(.05,.1),(.15,.1),(.25,.1),(.35,.1),(.45,.1),(-.5,.06),(-.4,.06),(-.3,.06),(-.2,.06),(-.1,.06),(0,.06),(.1,.06),(.2,.06),(.3,.06),(.4,.06),(.5,.06),(-.45,.02),(-.35,.02),(-.25,.02),(-.15,.02),(-.05,.02),(.05,.02),(.15,.02),(.25,.02),(.35,.02),(.45,.02),(-.5,-.02),(-.4,-.02),(-.3,-.02),(-.2,-.02),(-.1,-.02),(0,-.02),(.1,-.02),(.2,-.02),(.3,-.02),(.4,-.02),(.5,-.02),(-.45,-.06),(-.35,-.06),(-.25,-.06),(-.15,-.06),(-.05,-.06),(.05,-.06),(.15,-.06),(.25,-.06),(.35,-.06),(.45,-.06),(-.4,-.1),(-.3,-.1),(-.2,-.1),(-.1,-.1),(0,-.1),(.1,-.1),(.2,-.1),(.3,-.1),(.4,-.1),(.5,-.1)]

# gene labels: text, x, y in data units, italic?
D_labels=[("SraL",-1.46,.638,0),("proQ",1.69,.648,1),("sdhA",.90,.398,1),("ompC",-1.17,.21,1),("sdhB",.305,.175,1),("sdhC",1.22,.156,1),("hupB",.48,-.047,1),("ydcI",1.92,-.16,1),("fliC",-2.32,-.229,1),("ecnB",.013,-.229,1),("sopB",.96,-.338,1),("rpoS",-.773,-.417,1),("arcA",-.013,-.573,1),("ynaF",-1.2,-.605,1),("bssS",-2.33,-.764,1),("cspD",-.32,-.807,1)]
D_links=[(-1.34,.695,-1.25,.737),(1.43,.55,1.52,.59),(.65,.31,.76,.354),(-1.42,.122,-1.34,.16),(.44,.231,.52,.267),(.97,.066,1.05,.103),(.25,-.179,.385,-.1),(1.67,-.064,1.76,-.10),(-2.11,-.207,-2.09,-.147),(.71,-.427,.8,-.39),(-.48,-.385,-.4,-.342),(.1,-.514,.2,-.47),(-.92,-.629,-.91,-.685),(-2.3,-.709,-2.22,-.672),(-.59,-.704,-.48,-.751)]
E_labels=[("MicA",-2.17,.325,0),("MicF",-1.12,.259,0),("SibA",-.42,.464,0),("RybB",-1.6,.075,0),("fliC",-1.43,-.028,1),("arcA",-.34,-.032,1),("SraL",-.09,-.098,0),("ydcI",1.0,-.122,1),("ompC",-.73,-.216,1),("ynaF",-.16,-.282,1),("pnp",.55,-.304,1),("cspD",-1.17,-.4,1),("hupB",-1.86,-.625,1),("cspE",-1.05,-.667,1),("oxyR",-.21,-.785,1)]
E_links=[(-2.03,.265,-1.94,.23),(-1.45,.131,-1.36,.169),(-.65,.366,-.55,.413),(-1.37,-.085,-1.17,-.173),(-.33,-.188,-.24,-.15),(1.13,-.066,1.23,-.019),(.75,-.178,.82,-.14),(-.72,-.254,-.58,-.381),(-.13,-.229,.29,-.297),(-.44,-.347,-.38,-.3),(-1.45,-.498,-1.35,-.46),(-1.55,-.59,-1.53,-.533),(-.91,-.613,-.81,-.571),(-.47,-.685,-.38,-.732)]

# venn: cell counts and labels
F_counts=["87","477","41","36","69","129","331","529"]
F_sets=["stabilized (164)","pos. logFC (587)","neg. logFC (496)","destabilized (727)"]
G_counts=["363","143","12","38","34","25","177","217"]
G_sets=["stabilized (413)","pos. logFC (189)","neg. logFC (240)","destabilized (276)"]
cell_colors=["#9B77DE","#99CBDA","#5B74C7","#CBB947","#62C6AC","#96FF57","#FBFF72","#9DFFA8"]
cells=[[(-1,3),(0,2),(-1,1),(-2,0),(-3,1)],[(1,3),(3,1),(2,0),(1,1),(0,2)],[(0,2),(1,1),(0,0),(-1,1)],[(-1,1),(0,0),(-1,-1),(-2,0)],[(1,1),(2,0),(1,-1),(0,0)],[(0,0),(1,-1),(0,-2),(-1,-1)],[(-3,-1),(-2,0),(-1,-1),(0,-2),(-1,-3)],[(3,-1),(2,0),(1,-1),(0,-2),(1,-3)]]

def xy(pts):
    return [a for a,_ in pts],[b for _,b in pts]

def make(L,T,R,B,axx,axy,xa,xb,ya,yb):
    kx=(xb[1]-xa[1])/(xb[0]-xa[0]); ky=(yb[1]-ya[1])/(yb[0]-ya[0])
    fx=lambda px: xa[1]+(px-xa[0])*kx
    fy=lambda py: ya[1]+(py-ya[0])*ky
    p=figure(width=R-L,height=B-T,x_range=Range1d(fx(axx),fx(R)),y_range=Range1d(fy(axy),fy(T)),
             output_backend="svg",toolbar_location=None,tools="",frame_align=False,
             min_border_left=axx-L,min_border_right=0,min_border_top=0,min_border_bottom=B-axy)
    p.outline_line_color=None; p.grid.visible=False
    return p,fx,fy

def strip(L,T,R,B):
    p=figure(width=R-L,height=B-T,x_range=Range1d(L,R),y_range=Range1d(B,T),output_backend="svg",toolbar_location=None,tools="",frame_align=False,
             x_axis_location=None,y_axis_location=None,min_border_left=0,min_border_right=0,min_border_top=0,min_border_bottom=0)
    p.outline_line_color=None; p.grid.visible=False
    return p

ident=lambda v:v

def style_axes(p,tick_size,xticks,yticks,xb,yb,xov=None,yov=None):
    for ax,tk,b,ov in ((p.xaxis[0],xticks,xb,xov),(p.yaxis[0],yticks,yb,yov)):
        ax.ticker=FixedTicker(ticks=tk); ax.bounds=b
        ax.axis_line_width=3.5; ax.axis_line_color="#111111"
        ax.major_tick_line_color="#333333"; ax.major_tick_line_width=3
        ax.major_tick_in=0; ax.major_tick_out=8; ax.minor_tick_line_color=None
        ax.major_label_text_font=FONT; ax.major_label_text_font_size=f"{tick_size}px"; ax.major_label_text_color="#4D4D4D"
        ax.major_label_standoff=10
        if ov: ax.major_label_overrides=ov

BASE_K=0.385
def lab(p,x,y,text,size,font=FONT,style="normal",align="left",base="alphabetic",angle=0,color="black"):
    a=math.radians(angle); dx=dy=0
    if base=="alphabetic":
        dx=-math.sin(a)*BASE_K*size; dy=math.cos(a)*BASE_K*size
    p.add_layout(Label(x=x,y=y,x_offset=dx,y_offset=dy,text=text,text_font=font,text_font_size=f"{size}px",text_font_style=style,text_align=align,text_baseline=base,angle=angle,angle_units="deg",text_color=color))

def mark(p,pts,kind):
    x,y=xy(pts)
    if kind=="wt": p.scatter(x,y,marker="circle",size=25,fill_color=PURPLE,line_color=PURPLE,line_width=0)
    if kind=="pq": p.scatter(x,y,marker="square",size=25,fill_color=ORANGE,line_color=ORANGE,line_width=0)
    if kind=="dq": p.scatter(x,y,marker="triangle",size=36,fill_color=BLUE,line_color=BLUE,line_width=0)
    if kind=="dc": p.scatter(x,y,marker="cross",size=40,line_color=GREEN,line_width=3)
    if kind=="dcs": p.scatter(x,y,marker="square",size=25,fill_color=GREEN,line_color=GREEN,line_width=0)

def curve(p,pts,color,dash,w=10):
    x,y=xy(pts)
    p.line(x,y,line_color=color,line_width=w,line_dash=dash)

D_O="40 20"; D_B="22 22"; D_G="55 38"

def legend(p,fx,fy,base,ysym,items,size=62):
    for it in items:
        k=it[0]; sx=it[1]
        if k=="wt":
            p.scatter([fx(sx)],[fy(ysym)],marker="circle",size=25,fill_color=PURPLE,line_width=0); lab(p,fx(it[2]),fy(base),"WT",size)
        if k=="dq":
            p.scatter([fx(sx)],[fy(ysym)],marker="triangle",size=36,fill_color=BLUE,line_width=0)
            lab(p,fx(it[2]),fy(base),"Δ",size); lab(p,fx(it[3]),fy(base),"proQ",size,style="italic")
        if k=="pq":
            p.scatter([fx(sx)],[fy(ysym)],marker="square",size=25,fill_color=ORANGE,line_width=0); lab(p,fx(it[2]),fy(base),"proQ++",size,style="italic")
        if k in("dc","dcs"):
            if k=="dc":
                p.scatter([fx(sx)],[fy(ysym)],marker="cross",size=40,line_color=GREEN,line_width=3)
                p.line([fx(sx-18),fx(sx+18)],[fy(ysym)]*2,line_color=GREEN,line_width=10)
            else:
                p.scatter([fx(sx)],[fy(ysym)],marker="square",size=25,fill_color=GREEN,line_width=0)
            lab(p,fx(it[2]),fy(base),"Δ",size); lab(p,fx(it[3]),fy(base),"cspCE",size,style="italic")

def timecourse(tile,T1,L2,B1,legend_top,axx,axy,xcal,ycal,top,right,yticks,gene,gx,gy,panels,fits,stars,leg,letter,xt,yt):
    L,T,R,B=tile
    p,fx,fy=make(L2,T1,R,B1,axx,axy,xcal[0],xcal[1],ycal[0],ycal[1])
    style_axes(p,58,[0,5,10,15,20,25],yticks,(fx(axx),fx(right)),(fy(axy),fy(top)),yov={v:str(v) for v in yticks})
    for pts,k in panels: mark(p,pts,k)
    for pts,c,d in fits: curve(p,pts,c,d,11 if d=="solid" else 10)
    for (t,v,c) in stars:
        p.scatter([t,t],[v,v],marker="y",size=58,angle=[0,math.pi],line_color=c,line_width=8)
    lab(p,fx(gx),fy(gy),gene,80,style="italic",align="right")
    parts=[]
    if T1>T:
        ts=strip(L,T,R,T1)
        if letter: lab(ts,letter[1],letter[2],letter[0],92)
        if legend_top: legend(ts,ident,ident,leg[0],leg[1],leg[2])
        parts.append(ts)
    if not legend_top: legend(p,fx,fy,leg[0],leg[1],leg[2])
    ls=strip(L,T1,L2,B1)
    lab(ls,yt[0],yt[1],"rel. log-abundance",yt[2],angle=90)
    parts.append(row(ls,p))
    bs=strip(L,B1,R,B)
    lab(bs,xt[0],xt[1],"t [min]",73,align="center")
    parts.append(bs)
    return column(*parts)

a1=timecourse((0,0,1240,910),165,97,806,True,174,738,((210,0),(969,25)),((311,0),(714,-4)),220,974,[0,-1,-2,-3,-4],"cspD",965,281,
 [(cspD_wt,"wt"),(cspD_pq,"pq"),(cspD_dq,"dq"),(cspD_dc,"dc")],
 [(cspD_wt_fit,PURPLE,"solid"),(cspD_pq_fit,ORANGE,D_O),(cspD_dq_fit,BLUE,D_B),(cspD_dc_fit,GREEN,D_G)],
 [(26.3,-3.05,GREEN),(26.3,-3.8,BLUE)],
 (135,119,[("wt",123,158),("dq",288,323,361),("pq",533,565),("dc",793,828,866)]),("A",14,86),(573,879),(74,781,72))
a2=timecourse((1240,0,2620,910),0,1368,812,False,1453,735,((1491,0),(2298,25)),((302,0),(656,-4)),183,2302,[1,0,-1,-2,-3,-4],"cspE",2279,284,
 [(cspE_wt,"wt"),(cspE_pq,"pq"),(cspE_dq,"dq")],
 [(cspE_wt_fit,PURPLE,"solid"),(cspE_pq_fit,ORANGE,D_O),(cspE_dq_fit,BLUE,D_B)],
 [(26.3,-4.4,BLUE)],
 (137,121,[("wt",1566,1606),("dq",1740,1778,1822),("pq",2004,2033)]),None,(1877,886),(1346,781,78))
a3=timecourse((2620,0,3899,910),160,2710,804,True,2787,735,((2824,0),(3583,25)),((301,0),(715,-5)),217,3587,[1,0,-1,-2,-3,-4,-5],"ompD",3584,280,
 [(ompD_wt,"wt"),(ompD_pq,"pq"),(ompD_dq,"dq"),(ompD_dc,"dc")],
 [(ompD_wt_fit,PURPLE,"solid"),(ompD_pq_fit,ORANGE,D_O),(ompD_dq_fit,BLUE,D_B),(ompD_dc_fit,GREEN,D_G)],
 [(26.6,-3.83,GREEN),(26.6,-4.62,BLUE)],
 (135,119,[("wt",2733,2769),("dq",2897,2932,2974),("pq",3143,3177),("dc",3402,3437,3479)]),None,(3186,876),(2687,781,74))
b=timecourse((0,910,1190,2190),1160,103,1925,False,186,1842,((224.5,0),(1032,25)),((1448,0),(1794,-4)),1291,1037,[0,-2,-4],"cspC",1031,1359,
 [(cspC_wt,"wt"),(cspC_pq,"pq"),(cspC_dq,"dq")],
 [(cspC_wt_fit,PURPLE,"solid"),(cspC_pq_fit,ORANGE,D_O),(cspC_dq_fit,BLUE,D_B)],
 [(25.9,-3.25,ORANGE)],
 (1226,1209,[("wt",302,340),("dq",477,513,558),("pq",738,768)]),("B",10,1148),(610,1995),(79,1891,78))
c=timecourse((0,2190,1190,3254),2295,103,3070,False,186,2987,((224.5,0),(1032,25)),((2571,0),(2960,-4)),2436,1037,[1,0,-1,-2,-3,-4],"ecnB",1031,2506,
 [(ecnB_wt,"wt"),(ecnB_dq,"dq"),(ecnB_dc,"dcs")],
 [(ecnB_wt_fit,PURPLE,"solid"),(ecnB_dq_fit,BLUE,D_B),(ecnB_dc_fit,GREEN,D_G)],
 [(26.8,-3.61,GREEN)],
 (2349,2331,[("wt",275,312),("dq",449,486,530),("dcs",711,749,787)]),("C",21,2285),(610,3142),(79,3036,78))

VOV={1:"1.0",0.5:"0.5",0:"0.0",-0.5:"-0.5",-1:"-1.0"}
def volcano(tile,L2,axx,axy,xa,xb,right,gray,dense,rings,core,fdr,labels,links,title,tx,items,letter,ylx,xt):
    L,T,R,B=tile
    T1=1100; B1=2200
    p,fx,fy=make(L2,T1,R,B1,axx,axy,xa,xb,(1630,0),(2089,-1))
    style_axes(p,54,[-2,-1,0,1,2],[1,.5,0,-.5,-1],(fx(axx),fx(right)),(fy(axy),fy(1128)),yov=VOV,xov={-2:"-2",-1:"-1",0:"0",1:"1",2:"2"})
    x,y=xy(gray); p.scatter(x,y,marker="circle",size=20,fill_color="#CBD1D1",fill_alpha=.5,line_color=None)
    x,y=xy(dense); p.scatter(x,y,marker="circle",size=26,fill_color="#D6DBDB",line_color=None)
    x,y=xy(core); p.scatter(x,y,marker="circle",size=24,fill_color="#340F78",line_color=None)
    x,y=xy(rings); p.scatter(x,y,marker="circle",size=19,fill_color="white",fill_alpha=.55,line_color="#4A2590",line_width=4.5)
    x,y=xy(fdr); p.scatter(x,y,marker="circle",size=21,fill_color=ORANGE,line_color="#4A2590",line_width=1.5)
    p.segment([-.5,.5],[fy(axy)]*2,[-.5,.5],[fy(1128)]*2,line_color="black",line_width=3.5,line_dash="11 8")
    for a,b_,c_,d_ in links: p.line([a,c_],[b_,d_],line_color="black",line_width=2)
    for t,lx,ly,it in labels: lab(p,lx,ly,t,50,style="italic" if it else "normal",align="center",base="middle")
    ts=strip(L,T,R,T1)
    lab(ts,tx[0],1052,"Δ",60); lab(ts,tx[1],1052,title,60,style="italic")
    ts.scatter([items[0]],[1029],marker="circle",size=15,fill_color=ORANGE,line_color=None)
    lab(ts,items[1],1050,"FDR=0",57)
    ts.scatter([items[2]],[1029],marker="circle",size=16,fill_color="white",line_color=PURPLE,line_width=3)
    lab(ts,items[3],1050,"FDR≤0.1",57)
    lab(ts,letter[1],letter[2],letter[0],92)
    bs=strip(L,B1,R,B)
    lab(bs,xt,2260,"logFC",64,align="center")
    ls=strip(L,T1,L2,B1)
    lab(ls,ylx,1789,"Δt",68,angle=90)
    lab(ls,ylx+13,1727,"1/2",46,angle=90)
    lab(ls,ylx,1663,"/t",68,angle=90)
    lab(ls,ylx+13,1612,"1/2,WT",46,angle=90)
    return column(ts,row(ls,p),bs)

d=volcano((1190,910,2570,2380),1285,1414,2135,(1958.6,0),(2355,2),2500,D_gray,D_gray_dense,D_rings,D_core,D_fdr0,D_labels,D_links,"cspCE",(1519,1558),(1799,1857,2104,2162),("D",1233,995),1260,1958)
e=volcano((2570,910,3899,2380),2670,2794,2135,(3337,0),(3735,2),3881,E_gray,E_gray_dense,E_rings,E_core,E_fdr0,E_labels,E_links,"proQ",(2921,2960),(3157,3215,3462,3520),("E",2662,997),2640,3338)

def venn(tile,cx,cy,counts,sets,cpos,title,tpx,letter):
    L,T,R,B=tile
    p,fx,fy=make(L,T,R,B,L,B,(cx,0),(cx+129.5,1),(cy,0),(cy-121,1))
    p.axis.visible=False
    p.patches([xy(q)[0] for q in cells],[xy(q)[1] for q in cells],fill_color=cell_colors,line_color="#111111",line_width=1.2)
    p.segment([-1,1],[1,1],[1,-1],[-1,-1],line_color="black",line_width=3.5)
    for t,(u,v) in zip(counts,cpos):
        lab(p,u,v,t,58,font=VF,align="center",base="middle")
    spos=[(-2.25,2.13,43),(2.27,2.10,-42),(-2.04,-2.33,-43),(2.17,-2.19,43)]
    for t,(u,v,a) in zip(sets,spos):
        lab(p,u,v,t,53,font=VF,align="center",base="middle",angle=a)
    lab(p,fx(tpx[0]),fy(tpx[2]),"Δ",54); lab(p,fx(tpx[1]),fy(tpx[2]),title,54,style="italic")
    lab(p,fx(letter[1]),fy(letter[2]),letter[0],92)
    return p

f=venn((1190,2380,2590,3254),1887,2804,F_counts,F_sets,[(-1.69,1.45),(1.48,1.52),(0,.97),(-.95,.055),(.94,.05),(.03,-.98),(-1.47,-1.52),(1.58,-1.45)],"cspCE",(1786,1823,2447),("F",1249,2461))
g=venn((2590,2380,3899,3254),3317,2792,G_counts,G_sets,[(-1.56,1.44),(1.49,1.51),(0,.95),(-.97,.05),(.94,.04),(-.135,-1.0),(-1.48,-1.53),(1.56,-1.46)],"proQ",(3217,3255,2447),("G",2653,2494))

layout=column(row(a1,a2,a3),row(column(b,c),column(row(d,e),row(f,g))))
open("out.html","w").write(file_html(layout,INLINE))
